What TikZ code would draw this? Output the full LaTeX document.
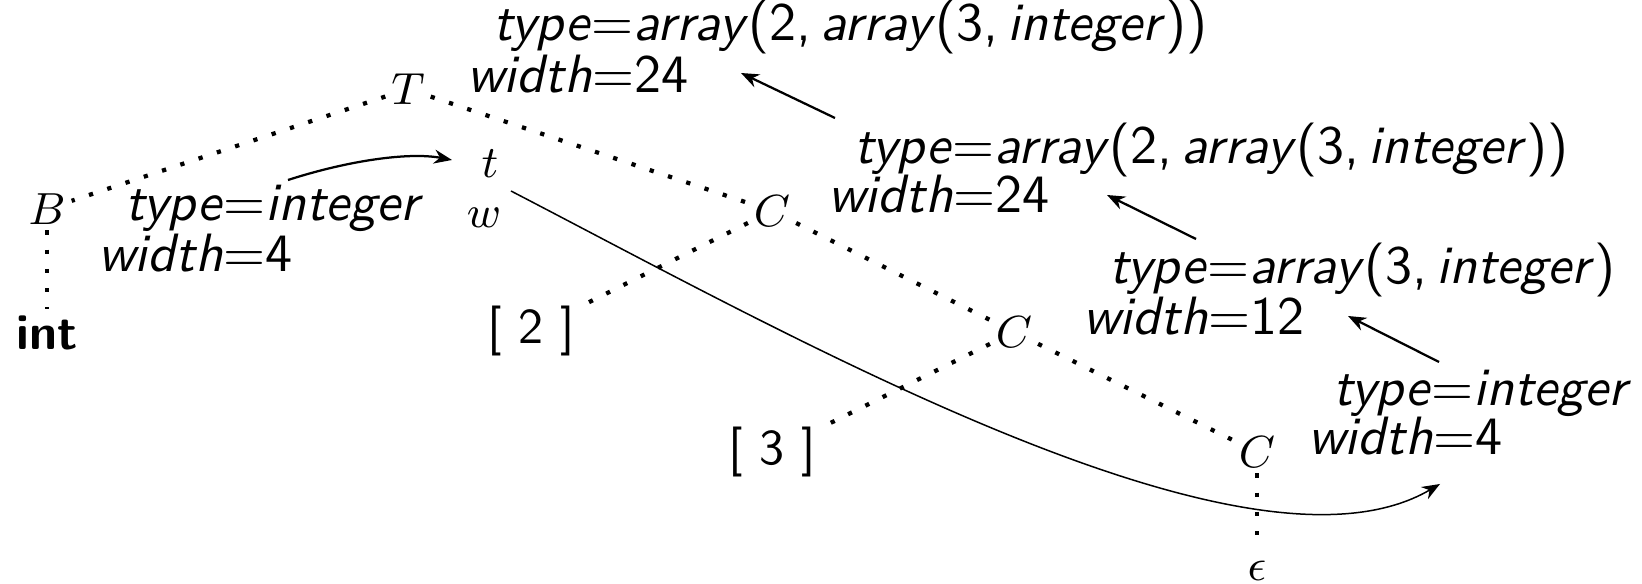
\documentclass[tikz,border=0pt]{standalone}
\usetikzlibrary{arrows.meta}
\begin{document}
\begin{tikzpicture}[x=0.2pt,y=-0.2pt,
  attr/.style={font=\fontsize{10.8}{12}\selectfont\sffamily, anchor=base west, inner sep=0pt},
  sym/.style={font=\fontsize{8.6}{10}\selectfont, inner sep=1pt},
  leaf/.style={font=\fontsize{10}{12}\selectfont\sffamily, inner sep=1.2pt},
  leafb/.style={font=\fontsize{10}{12}\selectfont\sffamily\bfseries, inner sep=1.2pt},
  tree/.style={line width=0.85pt, dash pattern=on 0.85pt off 3pt, line cap=butt},
  flow/.style={line width=0.45pt, -{Stealth[length=3.6pt,width=2.8pt]}},
  longflow/.style={line width=0.3pt, -{Stealth[length=3.6pt,width=2.8pt]}}
]
\useasboundingbox (0,0) rectangle (1642,584);
% tree symbols
\node[sym] (T) at (408,89) {$T$};
\node[sym] (B) at (47,209) {$B$};
\node[leafb] (int) at (47,333) {int};
\node[sym] (t) at (490,164) {$t$};
\node[sym] (w) at (484,218) {$w$};
\node[sym] (C1) at (772,211) {$C$};
\node[sym] (C2) at (1014,332) {$C$};
\node[sym] (C3) at (1257,452) {$C$};
\node[sym, inner sep=3pt] (eps) at (1257,571) {$\epsilon$};
\node[leaf] (n2) at (531,331) {[ 2 ]};
\node[leaf] (n3) at (772,452) {[ 3 ]};
% attribute labels
\node[attr] (Tty) at (492,41) {\textit{type}=\textit{array}(2,\,\textit{array}(3,\,\textit{integer}))};
\node[attr] (Twd) at (466,93) {\textit{width}=24};
\node[attr] (C1ty) at (853,164) {\textit{type}=\textit{array}(2,\,\textit{array}(3,\,\textit{integer}))};
\node[attr] (C1wd) at (827,213) {\textit{width}=24};
\node[attr] (C2ty) at (1108,284) {\textit{type}=\textit{array}(3,\,\textit{integer})};
\node[attr] (C2wd) at (1082,335) {\textit{width}=12};
\node[attr] (C3ty) at (1332,406) {\textit{type}=\textit{integer}};
\node[attr] (C3wd) at (1307,455) {\textit{width}=4};
\node[attr] (Bty) at (124,221) {\textit{type}=\textit{integer}};
\node[attr] (Bwd) at (97,272) {\textit{width}=4};
% parse tree (dotted)
\draw[tree] (T) -- (B);
\draw[tree] (B) -- (int);
\draw[tree] (T) -- (C1);
\draw[tree] (C1) -- (n2);
\draw[tree] (C1) -- (C2);
\draw[tree] (C2) -- (n3);
\draw[tree] (C2) -- (C3);
\draw[tree] (C3) -- (eps);
% attribute flow
\coordinate (a1s) at (288,180);
\coordinate (a1e) at (452,160);
\coordinate (a2s) at (835,118);
\coordinate (a2e) at (741,73);
\coordinate (a3s) at (1196,239);
\coordinate (a3e) at (1107,195);
\coordinate (a4s) at (1439,362);
\coordinate (a4e) at (1348,316);
\coordinate (a5s) at (511,191);
\coordinate (a5e) at (1440,484);
\draw[flow] (a1s) .. controls (350,160) and (410,152) .. (a1e);
\draw[flow] (a2s) -- (a2e);
\draw[flow] (a3s) -- (a3e);
\draw[flow] (a4s) -- (a4e);
\draw[longflow] (a5s) .. controls (800,341) and (1250,595) .. (a5e);
\end{tikzpicture}
\end{document}
